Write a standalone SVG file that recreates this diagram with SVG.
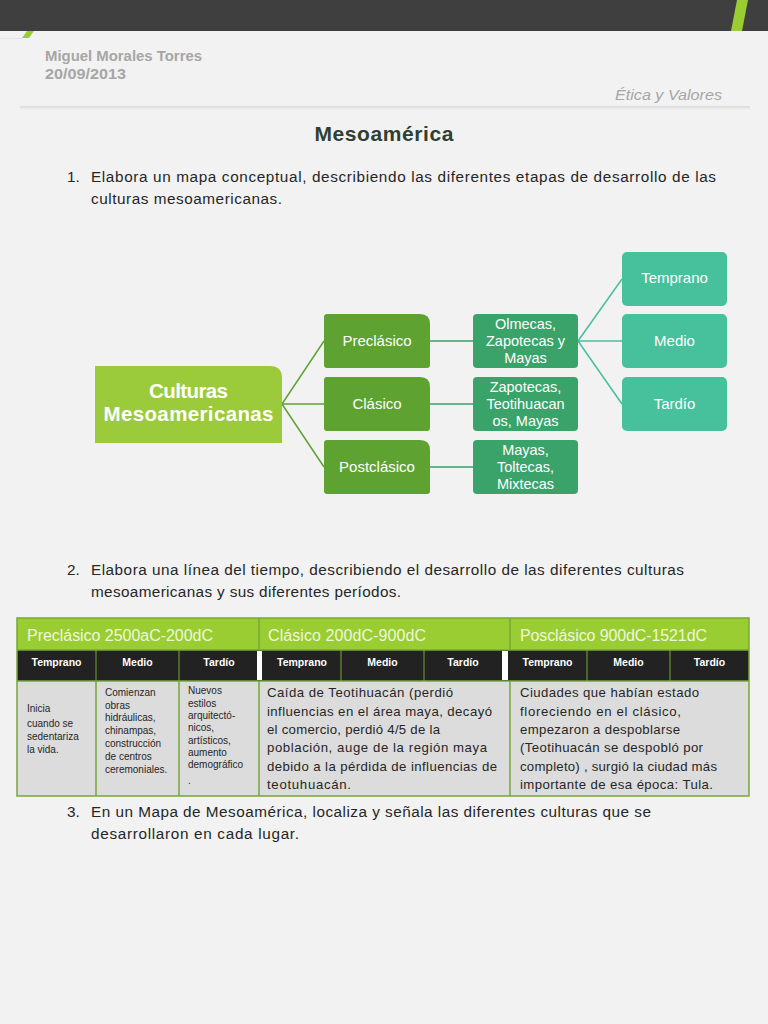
<svg xmlns="http://www.w3.org/2000/svg" width="768" height="1024" viewBox="0 0 768 1024">
<defs>
<style>
.body{font-family:"Liberation Sans",Arial,sans-serif;font-size:15.3px;fill:#262626}
.wt{font-family:"Liberation Sans",Arial,sans-serif;fill:#ffffff;text-anchor:middle}
.hdr{font-family:"Liberation Sans",Arial,sans-serif;font-size:16px;fill:#eef7dc}
.sub{font-family:"Liberation Sans",Arial,sans-serif;font-size:10.5px;font-weight:bold;fill:#ffffff;text-anchor:middle}
.sm{font-family:"Liberation Sans",Arial,sans-serif;font-size:10px;fill:#262626}
.md{font-family:"Liberation Sans",Arial,sans-serif;font-size:13.2px;fill:#262626}
.tb{fill:none;stroke:#77a83a;stroke-width:1.5}
</style>
<linearGradient id="sh" x1="0" y1="0" x2="0" y2="1">
<stop offset="0" stop-color="#dadada"/><stop offset="1" stop-color="#f2f2f2"/>
</linearGradient>
</defs>
<rect x="0" y="0" width="768" height="1024" fill="#f2f2f2"/>
<g id="banner">
<rect x="0" y="0" width="768" height="31" fill="#3f3f3f"/>
<polygon points="737,0 748,0 742,31 731,31" fill="#9acd32"/>
<polygon points="27,31 34,31 29,38 22,38" fill="#9acd32"/>
<line x1="0" y1="38.5" x2="22" y2="38.5" stroke="#e2e2e2" stroke-width="1"/>
<text x="45" y="61" font-family="Liberation Sans,Arial,sans-serif" font-weight="bold" font-size="14.5" fill="#a6a6a6" textLength="157" lengthAdjust="spacingAndGlyphs">Miguel Morales Torres</text>
<text x="45" y="79" font-family="Liberation Sans,Arial,sans-serif" font-weight="bold" font-size="14.5" fill="#a6a6a6" textLength="81" lengthAdjust="spacingAndGlyphs">20/09/2013</text>
<text x="722" y="100" text-anchor="end" font-family="Liberation Sans,Arial,sans-serif" font-style="italic" font-size="15" fill="#a6a6a6" textLength="107" lengthAdjust="spacingAndGlyphs">Ética y Valores</text>
<rect x="20" y="106" width="730" height="4" fill="url(#sh)"/>
</g>
<text x="384" y="141" text-anchor="middle" font-family="Liberation Sans,Arial,sans-serif" font-weight="bold" font-size="21" fill="#2f3f33" textLength="139">Mesoamérica</text>
<g id="item1">
<text class="body" x="67" y="182">1.</text>
<text class="body" x="91" y="182" textLength="625">Elabora un mapa conceptual, describiendo las diferentes etapas de desarrollo de las</text>
<text class="body" x="91" y="204" textLength="191">culturas mesoamericanas.</text>
</g>
<g id="connectors" fill="none" stroke-width="1.5">
<path d="M282,404 L324,341 M282,404 L324,404 M282,404 L324,467" stroke="#5ea232"/>
<path d="M430,341 L473,341 M430,404 L473,404 M430,467 L473,467" stroke="#3aa36a"/>
<path d="M578,341 L622,279 M578,341 L622,341 M578,341 L622,404" stroke="#47c09c"/>
</g>
<g id="root">
<path d="M95,366 H270 Q282,366 282,378 V443 H95 Z" fill="#9bcb3b"/>
<text class="wt" x="188.5" y="398" font-size="20.5" font-weight="bold" textLength="79">Culturas</text>
<text class="wt" x="188.5" y="421" font-size="20.5" font-weight="bold" textLength="170">Mesoamericanas</text>
</g>
<g id="preclasico">
<path d="M327,314 H420 Q430,314 430,324 V365 Q430,368 427,368 H327 Q324,368 324,365 V317 Q324,314 327,314 Z" fill="#5ea232"/>
<text class="wt" x="377" y="346" font-size="15">Preclásico</text>
</g>
<g id="clasico">
<path d="M327,377 H420 Q430,377 430,387 V428 Q430,431 427,431 H327 Q324,431 324,428 V380 Q324,377 327,377 Z" fill="#5ea232"/>
<text class="wt" x="377" y="409" font-size="15">Clásico</text>
</g>
<g id="postclasico">
<path d="M327,440 H420 Q430,440 430,450 V491 Q430,494 427,494 H327 Q324,494 324,491 V443 Q324,440 327,440 Z" fill="#5ea232"/>
<text class="wt" x="377" y="472" font-size="15">Postclásico</text>
</g>
<g id="olmecas">
<rect x="473" y="314" width="105" height="54" rx="4" fill="#3aa36a"/>
<text class="wt" x="525.5" y="329" font-size="14.5">Olmecas,</text>
<text class="wt" x="525.5" y="346" font-size="14.5">Zapotecas y</text>
<text class="wt" x="525.5" y="363" font-size="14.5">Mayas</text>
</g>
<g id="zapotecas">
<rect x="473" y="377" width="105" height="54" rx="4" fill="#3aa36a"/>
<text class="wt" x="525.5" y="392" font-size="14.5">Zapotecas,</text>
<text class="wt" x="525.5" y="409" font-size="14.5">Teotihuacan</text>
<text class="wt" x="525.5" y="426" font-size="14.5">os, Mayas</text>
</g>
<g id="mayas">
<rect x="473" y="440" width="105" height="54" rx="4" fill="#3aa36a"/>
<text class="wt" x="525.5" y="455" font-size="14.5">Mayas,</text>
<text class="wt" x="525.5" y="472" font-size="14.5">Toltecas,</text>
<text class="wt" x="525.5" y="489" font-size="14.5">Mixtecas</text>
</g>
<g id="temprano">
<rect x="622" y="252" width="105" height="54" rx="5" fill="#47c09c"/>
<text class="wt" x="674.5" y="283" font-size="15">Temprano</text>
</g>
<g id="medio">
<rect x="622" y="314" width="105" height="54" rx="5" fill="#47c09c"/>
<text class="wt" x="674.5" y="346" font-size="15">Medio</text>
</g>
<g id="tardio">
<rect x="622" y="377" width="105" height="54" rx="5" fill="#47c09c"/>
<text class="wt" x="674.5" y="409" font-size="15">Tardío</text>
</g>
<g id="item2">
<text class="body" x="67" y="575">2.</text>
<text class="body" x="91" y="575" textLength="593">Elabora una línea del tiempo, describiendo el desarrollo de las diferentes culturas</text>
<text class="body" x="91" y="597" textLength="310">mesoamericanas y sus diferentes períodos.</text>
</g>
<g id="table">
<rect x="17" y="618" width="732" height="32" fill="#9acd32"/>
<rect x="17" y="650" width="732" height="31" fill="#222222"/>
<rect x="17" y="681" width="732" height="115" fill="#dcdcdc"/>
<rect x="257" y="651" width="5" height="29" fill="#ffffff"/>
<rect x="502" y="651" width="6" height="29" fill="#ffffff"/>
<rect class="tb" x="17" y="618" width="732" height="178"/>
<line class="tb" x1="17" y1="650" x2="749" y2="650"/>
<line class="tb" x1="17" y1="681" x2="749" y2="681"/>
<line class="tb" x1="259" y1="618" x2="259" y2="650"/>
<line class="tb" x1="510" y1="618" x2="510" y2="650"/>
<line class="tb" x1="259" y1="681" x2="259" y2="796"/>
<line class="tb" x1="510" y1="681" x2="510" y2="796"/>
<line class="tb" x1="96" y1="681" x2="96" y2="796"/>
<line class="tb" x1="179" y1="681" x2="179" y2="796"/>
<g stroke="#77a83a" stroke-width="1">
<line x1="96" y1="650" x2="96" y2="681"/><line x1="179" y1="650" x2="179" y2="681"/>
<line x1="341" y1="650" x2="341" y2="681"/><line x1="424" y1="650" x2="424" y2="681"/>
<line x1="587" y1="650" x2="587" y2="681"/><line x1="670" y1="650" x2="670" y2="681"/>
</g>
<text class="hdr" x="27" y="641" textLength="186">Preclásico 2500aC-200dC</text>
<text class="hdr" x="268" y="641" textLength="158">Clásico 200dC-900dC</text>
<text class="hdr" x="520" y="641" textLength="187">Posclásico 900dC-1521dC</text>
<text class="sub" x="56.5" y="666">Temprano</text>
<text class="sub" x="137.5" y="666">Medio</text>
<text class="sub" x="219" y="666">Tardío</text>
<text class="sub" x="302" y="666">Temprano</text>
<text class="sub" x="382.5" y="666">Medio</text>
<text class="sub" x="463" y="666">Tardío</text>
<text class="sub" x="547.5" y="666">Temprano</text>
<text class="sub" x="628.5" y="666">Medio</text>
<text class="sub" x="709.5" y="666">Tardío</text>
<text class="sm" x="27" y="712">Inicia</text>
<text class="sm" x="27" y="727">cuando se</text>
<text class="sm" x="27" y="740">sedentariza</text>
<text class="sm" x="27" y="753">la vida.</text>
<text class="sm" x="105" y="696">Comienzan</text>
<text class="sm" x="105" y="709">obras</text>
<text class="sm" x="105" y="721">hidráulicas,</text>
<text class="sm" x="105" y="734">chinampas,</text>
<text class="sm" x="105" y="747">construcción</text>
<text class="sm" x="105" y="760">de centros</text>
<text class="sm" x="105" y="773">ceremoniales.</text>
<text class="sm" x="188" y="694">Nuevos</text>
<text class="sm" x="188" y="707">estilos</text>
<text class="sm" x="188" y="719">arquitectó-</text>
<text class="sm" x="188" y="731">nicos,</text>
<text class="sm" x="188" y="744">artísticos,</text>
<text class="sm" x="188" y="756">aumento</text>
<text class="sm" x="188" y="768">demográfico</text>
<text class="sm" x="188" y="784">.</text>
<text class="md" x="267" y="697" textLength="186">Caída de Teotihuacán (perdió</text>
<text class="md" x="267" y="716" textLength="225">influencias en el área maya, decayó</text>
<text class="md" x="267" y="734" textLength="173">el comercio, perdió 4/5 de la</text>
<text class="md" x="267" y="752" textLength="220">población, auge de la región maya</text>
<text class="md" x="267" y="771" textLength="230">debido a la pérdida de influencias de</text>
<text class="md" x="267" y="789" textLength="84">teotuhuacán.</text>
<text class="md" x="520" y="697" textLength="179">Ciudades que habían estado</text>
<text class="md" x="520" y="716" textLength="161">floreciendo en el clásico,</text>
<text class="md" x="520" y="734" textLength="160">empezaron a despoblarse</text>
<text class="md" x="520" y="752" textLength="183">(Teotihuacán se despobló por</text>
<text class="md" x="520" y="771" textLength="197">completo) , surgió la ciudad más</text>
<text class="md" x="520" y="789" textLength="193">importante de esa época: Tula.</text>
</g>
<g id="item3">
<text class="body" x="67" y="817">3.</text>
<text class="body" x="91" y="817" textLength="560">En un Mapa de Mesoamérica, localiza y señala las diferentes culturas que se</text>
<text class="body" x="91" y="839" textLength="208">desarrollaron en cada lugar.</text>
</g>
</svg>
